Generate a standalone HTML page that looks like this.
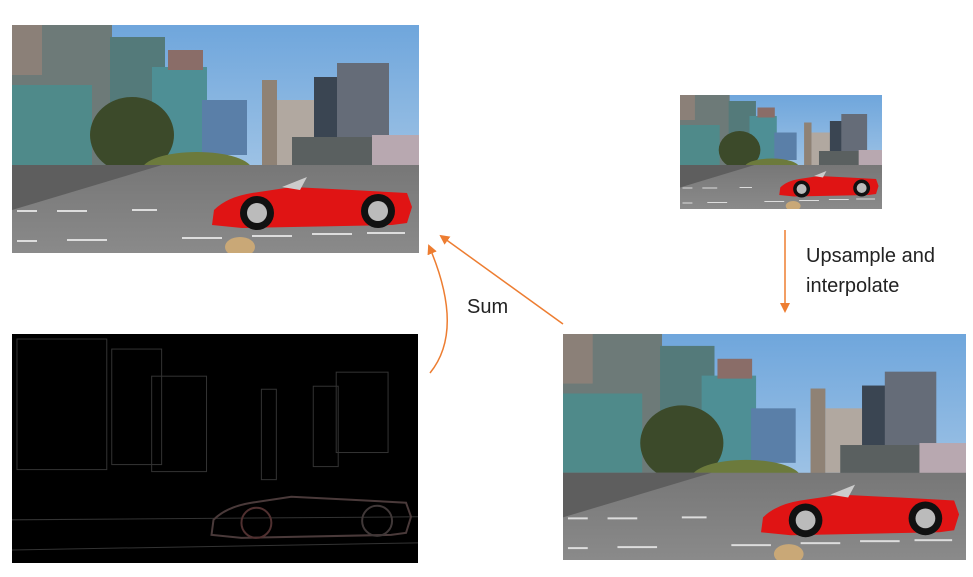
<!DOCTYPE html>
<html><head><meta charset="utf-8"><style>
html,body{margin:0;padding:0;background:#fff;width:973px;height:577px;overflow:hidden;position:relative;font-family:"Liberation Sans",sans-serif}
.t{position:absolute;font-size:20px;color:#222;line-height:30px}
</style></head><body>
<svg width="973" height="577" style="position:absolute;left:0;top:0">
<defs>
<linearGradient id="sky" x1="0" y1="0" x2="0" y2="1"><stop offset="0" stop-color="#6fa6dc"/><stop offset="1" stop-color="#b9d3ea"/></linearGradient>
<linearGradient id="road" x1="0" y1="0" x2="0" y2="1"><stop offset="0" stop-color="#777"/><stop offset="1" stop-color="#8a8a8a"/></linearGradient>
<symbol id="scene" viewBox="0 0 407 228" preserveAspectRatio="none">
<rect width="407" height="228" fill="url(#sky)"/>
<rect x="0" y="0" width="100" height="150" fill="#6d7a78"/>
<rect x="0" y="60" width="80" height="80" fill="#4f8a8a"/>
<rect x="0" y="0" width="30" height="50" fill="#8b8078"/>
<rect x="98" y="12" width="55" height="120" fill="#547a7a"/>
<rect x="140" y="42" width="55" height="95" fill="#4e8f95"/>
<rect x="156" y="25" width="35" height="20" fill="#8a6d68"/>
<rect x="190" y="75" width="45" height="55" fill="#5a7fa8"/>
<rect x="250" y="55" width="15" height="90" fill="#8f8275"/>
<rect x="265" y="75" width="45" height="65" fill="#b1a8a0"/>
<rect x="302" y="52" width="25" height="80" fill="#3a4552"/>
<rect x="325" y="38" width="52" height="80" fill="#656c78"/>
<rect x="280" y="112" width="127" height="35" fill="#5a6060"/>
<rect x="360" y="110" width="47" height="40" fill="#b8a8b0"/>
<ellipse cx="120" cy="110" rx="42" ry="38" fill="#3c4a2a"/>
<ellipse cx="185" cy="145" rx="55" ry="18" fill="#6c7a3c"/>
<rect x="0" y="140" width="407" height="88" fill="url(#road)"/>
<polygon points="0,140 150,140 0,185" fill="#5e5e5e"/>
<g fill="#ddd"><rect x="5" y="185" width="20" height="2"/><rect x="45" y="185" width="30" height="2"/><rect x="120" y="184" width="25" height="2"/><rect x="5" y="215" width="20" height="2"/><rect x="55" y="214" width="40" height="2"/><rect x="170" y="212" width="40" height="2"/><rect x="240" y="210" width="40" height="2"/><rect x="300" y="208" width="40" height="2"/><rect x="355" y="207" width="38" height="2"/></g>
<ellipse cx="228" cy="222" rx="15" ry="10" fill="#c9a877"/>
<path d="M200,200 L202,185 Q215,172 240,168 L280,162 L300,163 L340,165 L395,168 L400,182 L395,198 L380,200 L230,203 Z" fill="#e01414"/>
<path d="M270,162 L295,152 L288,165Z" fill="#ccc"/>
<circle cx="245" cy="188" r="17" fill="#111"/><circle cx="245" cy="188" r="10" fill="#bbb"/>
<circle cx="366" cy="186" r="17" fill="#111"/><circle cx="366" cy="186" r="10" fill="#bbb"/>
</symbol>
<symbol id="edge" viewBox="0 0 407 228" preserveAspectRatio="none">
<rect width="407" height="228" fill="#000"/>
<g stroke="#333" stroke-width="1" fill="none">
<rect x="5" y="5" width="90" height="130"/><rect x="100" y="15" width="50" height="115"/><rect x="140" y="42" width="55" height="95"/><rect x="250" y="55" width="15" height="90"/><rect x="302" y="52" width="25" height="80"/><rect x="325" y="38" width="52" height="80"/>
<line x1="0" y1="185" x2="407" y2="182"/><line x1="0" y1="215" x2="407" y2="208"/>
</g>
<path d="M200,200 L202,185 Q215,172 240,168 L280,162 L300,163 L340,165 L395,168 L400,182 L395,198 L380,200 L230,203 Z" fill="none" stroke="#4a3a3a" stroke-width="2"/>
<circle cx="245" cy="188" r="15" fill="none" stroke="#503030" stroke-width="2"/><circle cx="366" cy="186" r="15" fill="none" stroke="#403838" stroke-width="2"/>
</symbol>
<marker id="ah" markerWidth="10" markerHeight="10" refX="8" refY="5" orient="auto" markerUnits="userSpaceOnUse"><path d="M0,0 L10,5 L0,10 Z" fill="#ed7d31"/></marker>
</defs>
<use href="#scene" x="12" y="25" width="407" height="228"/>
<use href="#scene" x="680" y="95" width="202" height="114"/>
<use href="#scene" x="563" y="334" width="403" height="226"/>
<use href="#edge" x="12" y="334" width="406" height="229"/>
<g stroke="#ed7d31" stroke-width="1.5" fill="none">
<line x1="785" y1="230" x2="785" y2="311" marker-end="url(#ah)"/>
<line x1="563" y1="324" x2="441" y2="236" marker-end="url(#ah)"/>
<path d="M430,373 Q465,330 429,246" marker-end="url(#ah)"/>
</g>
</svg>
<div class="t" style="left:806px;top:241px">Upsample and<br>interpolate</div>
<div class="t" style="left:467px;top:292px">Sum</div>
</body></html>
